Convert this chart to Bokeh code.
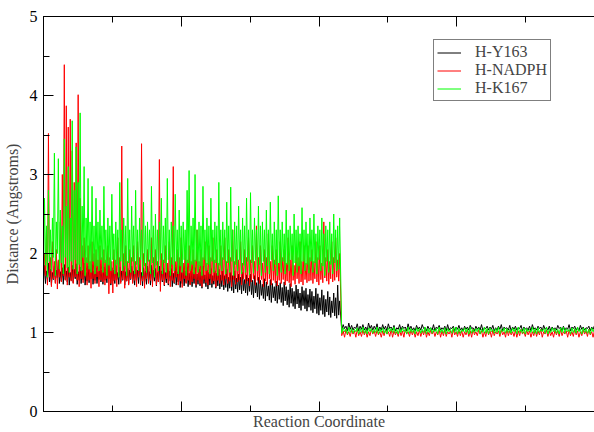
import numpy as np
from bokeh.plotting import figure
from bokeh.models import (LinearAxis, SingleIntervalTicker, Range1d, Legend, LegendItem,
                          CustomLabelingPolicy)
from bokeh.embed import file_html
from bokeh.resources import INLINE

# ---------------- data ----------------
# Each trajectory is very dense, so it is kept as local low / high envelope
# values per sample window (150 windows before the step, 90 after it).
series_names = ["H-Y163", "H-NADPH", "H-K167"]
series_colors = ["#000000", "#ff0000", "#00ff00"]

x_pre_start, x_pre_end = 0, 4300
x_post_start, x_post_end = 4330, 8000

y163_pre_hi = [
    1.85, 1.78, 1.88, 1.80, 1.76, 1.84, 1.79, 1.90, 1.77, 1.82, 1.86, 1.78, 1.83, 1.76, 1.85,
    1.80, 1.87, 1.77, 1.83, 1.79, 1.88, 1.76, 1.84, 1.80, 1.86, 1.78, 1.82, 1.77, 1.85, 1.79,
    1.83, 1.77, 1.86, 1.78, 1.82, 1.79, 1.85, 1.76, 1.83, 1.78, 1.88, 1.77, 1.81, 1.79, 1.84,
    1.78, 1.83, 1.79, 1.86, 1.76, 1.82, 1.78, 1.84, 1.77, 1.85, 1.79, 1.81, 1.76, 1.84, 1.78,
    1.82, 1.76, 1.85, 1.78, 1.81, 1.75, 1.83, 1.77, 1.86, 1.76, 1.80, 1.78, 1.83, 1.75, 1.80,
    1.76, 1.82, 1.74, 1.80, 1.77, 1.84, 1.73, 1.79, 1.76, 1.81, 1.72, 1.78, 1.75, 1.80, 1.73,
    1.78, 1.72, 1.80, 1.70, 1.76, 1.72, 1.78, 1.69, 1.74, 1.70, 1.76, 1.67, 1.73, 1.69, 1.74,
    1.66, 1.72, 1.63, 1.70, 1.66, 1.61, 1.68, 1.64, 1.59, 1.67, 1.62, 1.58, 1.65, 1.60, 1.63,
    1.57, 1.64, 1.58, 1.54, 1.62, 1.56, 1.52, 1.60, 1.55, 1.50, 1.58, 1.53, 1.56, 1.48, 1.55,
    1.52, 1.46, 1.56, 1.49, 1.44, 1.54, 1.47, 1.42, 1.52, 1.45, 1.40, 1.50, 1.44, 1.60, 1.40,
]
y163_pre_lo = [
    1.66, 1.62, 1.68, 1.64, 1.60, 1.67, 1.63, 1.69, 1.62, 1.65, 1.61, 1.67, 1.64, 1.60, 1.66,
    1.63, 1.68, 1.61, 1.66, 1.62, 1.67, 1.60, 1.65, 1.63, 1.68, 1.61, 1.66, 1.62, 1.67, 1.64,
    1.61, 1.66, 1.63, 1.68, 1.60, 1.65, 1.62, 1.67, 1.61, 1.64, 1.66, 1.60, 1.65, 1.62, 1.67,
    1.63, 1.60, 1.66, 1.62, 1.65, 1.59, 1.64, 1.61, 1.66, 1.60, 1.63, 1.65, 1.59, 1.64, 1.61,
    1.64, 1.59, 1.63, 1.60, 1.65, 1.58, 1.62, 1.60, 1.64, 1.57, 1.62, 1.59, 1.63, 1.58, 1.61,
    1.58, 1.62, 1.57, 1.61, 1.59, 1.56, 1.62, 1.58, 1.55, 1.60, 1.57, 1.61, 1.56, 1.59, 1.55,
    1.58, 1.54, 1.57, 1.52, 1.56, 1.53, 1.50, 1.55, 1.51, 1.54, 1.49, 1.53, 1.50, 1.47, 1.52,
    1.48, 1.44, 1.50, 1.45, 1.42, 1.47, 1.43, 1.40, 1.46, 1.41, 1.38, 1.44, 1.40, 1.37, 1.42,
    1.38, 1.34, 1.40, 1.35, 1.32, 1.37, 1.33, 1.30, 1.36, 1.31, 1.28, 1.34, 1.30, 1.27, 1.32,
    1.28, 1.25, 1.30, 1.24, 1.22, 1.28, 1.23, 1.20, 1.26, 1.22, 1.19, 1.25, 1.21, 1.18, 1.22,
]
y163_post_hi = [
    1.10, 1.08, 1.12, 1.09, 1.07, 1.11, 1.08, 1.10, 1.07, 1.12, 1.09, 1.08, 1.11, 1.07, 1.10,
    1.08, 1.11, 1.07, 1.09, 1.06, 1.10, 1.08, 1.07, 1.11, 1.08, 1.06, 1.09, 1.07, 1.10, 1.06,
    1.08, 1.06, 1.10, 1.07, 1.09, 1.06, 1.08, 1.10, 1.06, 1.08, 1.07, 1.09, 1.06, 1.08, 1.07,
    1.09, 1.06, 1.08, 1.07, 1.10, 1.06, 1.08, 1.07, 1.09, 1.06, 1.08, 1.10, 1.07, 1.06, 1.09,
    1.07, 1.08, 1.06, 1.09, 1.07, 1.06, 1.08, 1.10, 1.06, 1.08, 1.07, 1.09, 1.06, 1.08, 1.07,
    1.06, 1.09, 1.07, 1.08, 1.06, 1.10, 1.07, 1.08, 1.06, 1.09, 1.07, 1.06, 1.08, 1.07, 1.09,
]
y163_post_lo = [
    1.03, 1.05, 1.02, 1.04, 1.03, 1.05, 1.02, 1.04, 1.03, 1.02, 1.05, 1.03, 1.04, 1.02, 1.03,
    1.04, 1.02, 1.05, 1.03, 1.02, 1.04, 1.03, 1.05, 1.02, 1.04, 1.03, 1.02, 1.04, 1.03, 1.05,
    1.02, 1.04, 1.03, 1.02, 1.05, 1.03, 1.04, 1.02, 1.03, 1.05, 1.02, 1.04, 1.03, 1.02, 1.04,
    1.03, 1.05, 1.02, 1.04, 1.03, 1.02, 1.05, 1.03, 1.04, 1.02, 1.03, 1.04, 1.02, 1.05, 1.03,
    1.02, 1.04, 1.03, 1.05, 1.02, 1.04, 1.03, 1.02, 1.04, 1.03, 1.05, 1.02, 1.04, 1.03, 1.02,
    1.04, 1.03, 1.05, 1.02, 1.03, 1.04, 1.02, 1.05, 1.03, 1.02, 1.04, 1.03, 1.05, 1.02, 1.04,
]

nadph_pre_hi = [
    2.00, 2.30, 3.52, 1.95, 2.15, 1.90, 2.05, 1.92, 2.40, 3.00, 4.39, 3.87, 3.60, 3.70, 3.30,
    2.90, 3.40, 4.01, 2.70, 2.10, 2.20, 1.95, 2.10, 1.90, 2.15, 2.00, 2.05, 1.92, 2.10, 1.95,
    2.05, 1.92, 2.10, 1.95, 1.90, 2.05, 1.92, 2.20, 1.95, 3.36, 2.00, 2.10, 1.90, 2.05, 1.95,
    2.10, 1.90, 2.15, 1.95, 3.39, 2.00, 1.88, 2.05, 1.92, 2.20, 1.95, 2.05, 1.90, 3.19, 2.00,
    1.92, 2.10, 1.88, 2.15, 1.95, 3.10, 1.90, 2.05, 1.95, 2.20, 1.88, 2.05, 1.92, 2.10, 1.90,
    2.05, 1.92, 2.30, 1.90, 2.05, 1.95, 2.15, 1.88, 2.10, 1.95, 2.20, 1.92, 2.05, 1.88, 2.10,
    1.95, 2.20, 1.90, 2.05, 1.95, 2.30, 1.90, 2.05, 1.92, 2.15, 1.88, 2.05, 1.95, 2.20, 1.92,
    2.10, 1.90, 2.35, 1.95, 2.10, 1.88, 2.05, 1.95, 2.25, 1.90, 2.10, 1.92, 2.05, 1.88, 2.15,
    1.95, 2.05, 1.88, 2.20, 1.92, 2.10, 1.85, 2.05, 1.95, 2.15, 1.90, 2.10, 1.88, 2.10, 1.95,
    2.05, 1.90, 2.15, 1.95, 2.10, 1.88, 2.40, 1.95, 2.05, 1.90, 2.15, 1.95, 2.20, 1.92, 2.00,
]
nadph_pre_lo = [
    1.65, 1.72, 1.60, 1.70, 1.58, 1.68, 1.62, 1.55, 1.70, 1.64, 1.72, 1.66, 1.60, 1.70, 1.65,
    1.62, 1.70, 1.66, 1.58, 1.68, 1.63, 1.71, 1.60, 1.66, 1.56, 1.68, 1.62, 1.70, 1.58, 1.66,
    1.64, 1.60, 1.68, 1.49, 1.62, 1.50, 1.66, 1.58, 1.70, 1.62, 1.67, 1.56, 1.65, 1.60, 1.68,
    1.62, 1.66, 1.58, 1.70, 1.60, 1.65, 1.56, 1.68, 1.62, 1.66, 1.58, 1.70, 1.60, 1.64, 1.52,
    1.66, 1.60, 1.68, 1.62, 1.58, 1.66, 1.63, 1.70, 1.60, 1.65, 1.57, 1.68, 1.62, 1.66, 1.60,
    1.64, 1.68, 1.60, 1.66, 1.62, 1.58, 1.67, 1.63, 1.60, 1.68, 1.62, 1.65, 1.58, 1.66, 1.62,
    1.66, 1.60, 1.68, 1.62, 1.65, 1.58, 1.67, 1.61, 1.64, 1.66, 1.60, 1.68, 1.62, 1.65, 1.59,
    1.64, 1.68, 1.60, 1.66, 1.62, 1.67, 1.58, 1.65, 1.61, 1.68, 1.60, 1.66, 1.63, 1.59, 1.66,
    1.62, 1.67, 1.60, 1.65, 1.63, 1.58, 1.66, 1.61, 1.68, 1.62, 1.64, 1.60, 1.67, 1.63, 1.65,
    1.66, 1.62, 1.68, 1.64, 1.60, 1.67, 1.63, 1.69, 1.65, 1.61, 1.68, 1.64, 1.66, 1.70, 1.65,
]
nadph_post_hi = [
    1.02, 1.04, 1.01, 1.03, 1.02, 1.04, 1.01, 1.03, 1.02, 1.01, 1.04, 1.02, 1.03, 1.01, 1.02,
    1.03, 1.01, 1.04, 1.02, 1.01, 1.03, 1.02, 1.04, 1.01, 1.03, 1.02, 1.01, 1.03, 1.02, 1.04,
    1.01, 1.03, 1.02, 1.01, 1.04, 1.02, 1.03, 1.01, 1.02, 1.04, 1.01, 1.03, 1.02, 1.01, 1.03,
    1.02, 1.04, 1.01, 1.03, 1.02, 1.01, 1.04, 1.02, 1.03, 1.01, 1.02, 1.03, 1.01, 1.04, 1.02,
    1.01, 1.03, 1.02, 1.04, 1.01, 1.03, 1.02, 1.01, 1.03, 1.02, 1.04, 1.01, 1.03, 1.02, 1.01,
    1.03, 1.02, 1.04, 1.01, 1.02, 1.03, 1.01, 1.04, 1.02, 1.01, 1.03, 1.02, 1.04, 1.01, 1.03,
]
nadph_post_lo = [
    0.96, 0.94, 0.97, 0.95, 0.98, 0.94, 0.96, 0.95, 0.97, 0.94, 0.96, 0.98, 0.95, 0.97, 0.94,
    0.96, 0.98, 0.95, 0.94, 0.97, 0.95, 0.96, 0.94, 0.98, 0.95, 0.97, 0.94, 0.96, 0.95, 0.97,
    0.94, 0.96, 0.98, 0.95, 0.97, 0.94, 0.96, 0.95, 0.98, 0.94, 0.97, 0.95, 0.96, 0.94, 0.97,
    0.95, 0.94, 0.97, 0.96, 0.98, 0.94, 0.95, 0.97, 0.94, 0.96, 0.98, 0.95, 0.97, 0.94, 0.96,
    0.97, 0.95, 0.94, 0.96, 0.98, 0.95, 0.97, 0.94, 0.96, 0.95, 0.97, 0.94, 0.98, 0.95, 0.96,
    0.94, 0.97, 0.95, 0.96, 0.98, 0.94, 0.96, 0.95, 0.97, 0.94, 0.96, 0.98, 0.95, 0.97, 0.94,
]

k167_pre_hi = [
    2.70, 2.35, 2.80, 2.30, 2.45, 3.27, 2.40, 3.20, 2.55, 2.35, 3.45, 2.60, 3.10, 2.45, 3.68,
    2.80, 3.35, 2.90, 3.78, 2.60, 3.10, 2.45, 2.95, 2.40, 2.85, 2.35, 2.70, 2.40, 2.55, 2.35,
    2.85, 2.30, 2.45, 2.35, 2.75, 2.25, 2.40, 2.30, 2.90, 2.30, 2.45, 2.35, 2.95, 2.30, 2.60,
    2.35, 2.80, 2.30, 2.45, 2.30, 2.65, 2.35, 2.40, 2.30, 2.85, 2.35, 2.50, 2.30, 2.40, 2.70,
    2.35, 2.45, 2.95, 2.30, 2.40, 2.35, 2.75, 2.30, 2.55, 2.35, 2.40, 2.30, 2.80, 3.05, 2.35,
    2.45, 3.00, 2.30, 2.40, 2.35, 2.85, 2.30, 2.45, 2.35, 2.70, 2.30, 2.40, 2.35, 2.90, 2.30,
    2.40, 2.30, 2.65, 2.35, 2.84, 2.30, 2.40, 2.35, 2.60, 2.30, 2.45, 2.35, 2.70, 2.30, 2.77,
    2.30, 2.45, 2.30, 2.60, 2.35, 2.40, 2.30, 2.55, 2.30, 2.65, 2.25, 2.40, 2.30, 2.73, 2.30,
    2.40, 2.25, 2.55, 2.30, 2.35, 2.25, 2.50, 2.30, 2.35, 2.25, 2.58, 2.30, 2.40, 2.25, 2.45,
    2.30, 2.50, 2.25, 2.35, 2.30, 2.45, 2.25, 2.35, 2.30, 2.40, 2.25, 2.50, 2.30, 2.35, 2.45,
]
k167_pre_lo = [
    1.75, 1.85, 1.70, 1.90, 1.78, 1.95, 1.72, 2.00, 1.80, 1.88, 1.74, 1.95, 1.82, 1.76, 1.90,
    1.80, 1.92, 1.74, 1.86, 1.78, 1.95, 1.72, 1.88, 1.80, 1.76, 1.90, 1.74, 1.84, 1.78, 1.92,
    1.76, 1.88, 1.72, 1.85, 1.78, 1.92, 1.74, 1.86, 1.70, 1.90, 1.78, 1.84, 1.72, 1.88, 1.76,
    1.90, 1.74, 1.86, 1.78, 1.92, 1.72, 1.84, 1.76, 1.90, 1.74, 1.88, 1.70, 1.85, 1.78, 1.92,
    1.74, 1.88, 1.76, 1.92, 1.72, 1.86, 1.78, 1.90, 1.74, 1.84, 1.76, 1.92, 1.72, 1.88, 1.78,
    1.86, 1.74, 1.90, 1.76, 1.84, 1.72, 1.92, 1.78, 1.86, 1.74, 1.90, 1.76, 1.88, 1.72, 1.85,
    1.78, 1.92, 1.74, 1.88, 1.76, 1.90, 1.72, 1.86, 1.78, 1.92, 1.74, 1.85, 1.76, 1.90, 1.73,
    1.88, 1.75, 1.92, 1.78, 1.86, 1.72, 1.90, 1.76, 1.84, 1.74, 1.92, 1.78, 1.86, 1.72, 1.88,
    1.76, 1.90, 1.74, 1.86, 1.78, 1.92, 1.72, 1.88, 1.76, 1.84, 1.74, 1.90, 1.78, 1.86, 1.75,
    1.90, 1.76, 1.88, 1.74, 1.92, 1.78, 1.84, 1.72, 1.90, 1.76, 1.86, 1.74, 1.88, 1.78, 1.80,
]
k167_post_hi = [
    1.06, 1.04, 1.07, 1.05, 1.04, 1.06, 1.05, 1.07, 1.04, 1.06, 1.05, 1.04, 1.07, 1.05, 1.06,
    1.04, 1.06, 1.05, 1.07, 1.04, 1.05, 1.06, 1.04, 1.07, 1.05, 1.04, 1.06, 1.05, 1.04, 1.07,
    1.05, 1.06, 1.04, 1.05, 1.07, 1.04, 1.06, 1.05, 1.04, 1.06, 1.07, 1.05, 1.04, 1.06, 1.05,
    1.07, 1.04, 1.05, 1.06, 1.04, 1.07, 1.05, 1.06, 1.04, 1.05, 1.07, 1.04, 1.06, 1.05, 1.04,
    1.06, 1.05, 1.07, 1.04, 1.06, 1.05, 1.04, 1.07, 1.05, 1.06, 1.04, 1.05, 1.07, 1.04, 1.06,
    1.05, 1.04, 1.06, 1.07, 1.05, 1.04, 1.06, 1.05, 1.07, 1.04, 1.06, 1.05, 1.04, 1.06, 1.05,
]
k167_post_lo = [
    0.99, 1.01, 0.98, 1.00, 0.99, 1.01, 0.98, 1.00, 0.99, 0.98, 1.01, 0.99, 1.00, 0.98, 1.00,
    0.99, 0.98, 1.01, 1.00, 0.99, 0.98, 1.00, 1.01, 0.98, 0.99, 1.00, 0.98, 1.01, 0.99, 1.00,
    0.98, 1.00, 0.99, 1.01, 0.98, 1.00, 0.99, 0.98, 1.01, 0.99, 1.00, 0.98, 0.99, 1.01, 1.00,
    0.98, 0.99, 1.00, 1.01, 0.98, 1.00, 0.99, 0.98, 1.01, 0.99, 1.00, 0.98, 1.01, 0.99, 1.00,
    0.99, 1.01, 0.98, 1.00, 0.99, 0.98, 1.01, 1.00, 0.99, 0.98, 1.00, 1.01, 0.99, 0.98, 1.00,
    1.01, 0.99, 0.98, 1.00, 0.99, 1.01, 0.98, 1.00, 0.99, 1.01, 0.98, 1.00, 0.99, 0.98, 1.01,
]

y_tick_interval = 1
x_tick_interval = 2000
x_label = "Reaction Coordinate"
y_label = "Distance (Angstroms)"

# ---------------- build traces ----------------
def trace(lo_pre, hi_pre, lo_post, hi_post):
    y_pre = np.column_stack([lo_pre, hi_pre]).ravel()
    y_post = np.column_stack([lo_post, hi_post]).ravel()
    x_pre = np.linspace(x_pre_start, x_pre_end, len(y_pre))
    x_post = np.linspace(x_post_start, x_post_end, len(y_post))
    return np.concatenate([x_pre, x_post]), np.concatenate([y_pre, y_post])

traces = [
    trace(y163_pre_lo, y163_pre_hi, y163_post_lo, y163_post_hi),
    trace(nadph_pre_lo, nadph_pre_hi, nadph_post_lo, nadph_post_hi),
    trace(k167_pre_lo, k167_pre_hi, k167_post_lo, k167_post_hi),
]

# ---------------- figure ----------------
FONT = "Liberation Serif"

p = figure(width=594, height=432, output_backend="svg", toolbar_location=None,
           x_range=Range1d(0, 8000), y_range=Range1d(0, 5),
           min_border_left=43, min_border_right=0, min_border_top=16, min_border_bottom=21)
p.outline_line_color = None
p.xgrid.visible = False
p.ygrid.visible = False
p.background_fill_color = "white"
p.border_fill_color = "white"

renderers = []
for (xv, yv), c in zip(traces, series_colors):
    renderers.append(p.line(xv, yv, line_color=c, line_width=1))

def style_axis(ax, show_labels):
    ax.axis_line_color = "black"
    ax.axis_line_width = 1
    ax.major_tick_line_color = "black"
    ax.minor_tick_line_color = "black"
    ax.major_tick_in = 10
    ax.major_tick_out = 0
    ax.minor_tick_in = 6
    ax.minor_tick_out = 0
    if not show_labels:
        ax.major_label_text_font_size = "1px"
        ax.major_label_standoff = 0
        ax.major_label_policy = CustomLabelingPolicy(code="return []")

yax = p.yaxis[0]
yax.ticker = SingleIntervalTicker(interval=y_tick_interval, num_minor_ticks=2)
style_axis(yax, True)
yax.major_label_text_font = FONT
yax.major_label_text_font_size = "16px"
yax.major_label_text_color = "black"
yax.major_label_standoff = 6
yax.axis_label = y_label
yax.axis_label_text_font = FONT
yax.axis_label_text_font_size = "16px"
yax.axis_label_text_font_style = "normal"
yax.axis_label_standoff = 6

xax = p.xaxis[0]
xax.ticker = SingleIntervalTicker(interval=x_tick_interval, num_minor_ticks=2)
style_axis(xax, False)
xax.axis_label = x_label
xax.axis_label_text_font = FONT
xax.axis_label_text_font_size = "16px"
xax.axis_label_text_font_style = "normal"
xax.axis_label_standoff = -3

top = LinearAxis(ticker=SingleIntervalTicker(interval=x_tick_interval, num_minor_ticks=2))
style_axis(top, False)
p.add_layout(top, "above")

legend = Legend(items=[LegendItem(label=n, renderers=[r]) for n, r in zip(series_names, renderers)],
                location=(390, 310))
legend.label_text_font = FONT
legend.label_text_font_size = "16px"
legend.label_height = 17
legend.glyph_height = 17
legend.glyph_width = 24
legend.label_standoff = 14
legend.spacing = 0
legend.padding = 3
legend.margin = 0
legend.border_line_color = "black"
legend.border_line_width = 1
legend.background_fill_color = "white"
legend.background_fill_alpha = 1
p.add_layout(legend, "center")

open("out.html", "w").write(file_html(p, INLINE))
